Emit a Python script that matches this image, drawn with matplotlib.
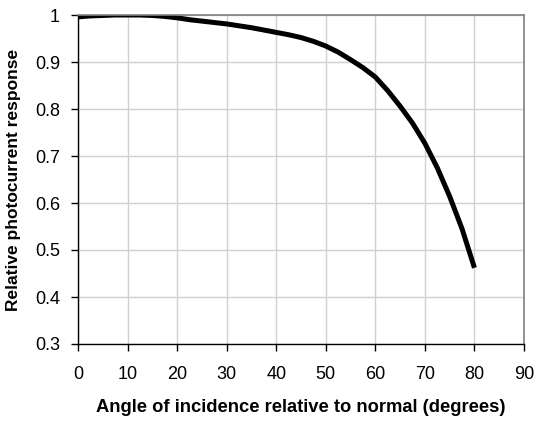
import numpy as np
import matplotlib.pyplot as plt

plt.rcParams['font.family'] = ['Liberation Sans', 'DejaVu Sans']

# angle of incidence (degrees) and relative photocurrent
angle = [0, 2.5, 5, 7.5, 10, 12.5, 15, 17.5, 20, 22.5, 25, 27.5, 30, 32.5, 35,
         37.5, 40, 42.5, 45, 47.5, 50, 52.5, 55, 57.5, 60, 62.5, 65, 67.5, 70,
         72.5, 75, 77.5, 80]
response = [0.996, 0.998, 0.999, 1.0, 1.0, 1.0, 0.999, 0.997, 0.994, 0.99, 0.987,
            0.984, 0.981, 0.977, 0.973, 0.968, 0.963, 0.958, 0.952, 0.944, 0.934,
            0.921, 0.905, 0.888, 0.868, 0.839, 0.806, 0.77, 0.727, 0.675, 0.614,
            0.545, 0.462]

xticks = np.arange(0, 91, 10)
yticks = [0.3, 0.4, 0.5, 0.6, 0.7, 0.8, 0.9, 1]

fig = plt.figure(figsize=(5.37, 4.23), dpi=100)
ax = fig.add_axes([78 / 537, 1 - 344 / 423, (524 - 78) / 537, (344 - 15) / 423])

ax.plot(angle, response, color='black', linewidth=3.6, solid_capstyle='butt')

ax.set_xlim(0, 90)
ax.set_ylim(0.3, 1)
ax.set_xticks(xticks)
ax.set_yticks(yticks)
ax.set_yticklabels(['0.3', '0.4', '0.5', '0.6', '0.7', '0.8', '0.9', '1'])
ax.grid(True, color='#d0d0d0', linewidth=1)
ax.set_axisbelow(True)

ax.tick_params(direction='out', length=5, width=1, labelsize=13)
ax.tick_params(axis='x', pad=11)
ax.tick_params(axis='y', pad=8)
for side in ['top', 'right']:
    ax.spines[side].set_color('#808080')
    ax.spines[side].set_linewidth(1.2)
for side in ['left', 'bottom']:
    ax.spines[side].set_color('black')
    ax.spines[side].set_linewidth(1)

ax.set_xlabel('Angle of incidence relative to normal (degrees)', fontsize=13.2,
              fontweight='bold', labelpad=11)
ax.set_ylabel('Relative photocurrent response', fontsize=12.5,
              fontweight='bold', labelpad=10)

fig.savefig('out.png', dpi=100)
